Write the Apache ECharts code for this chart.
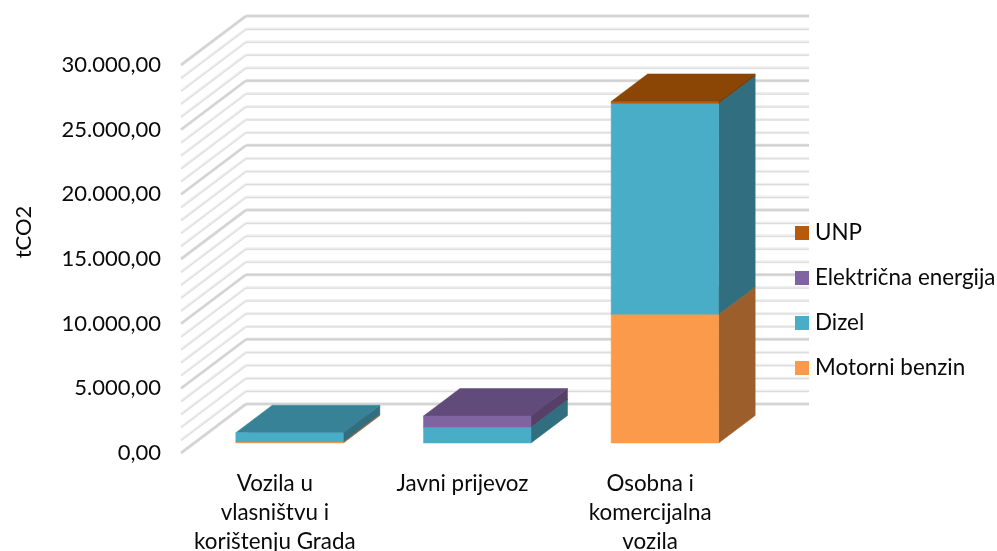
<!DOCTYPE html>
<html>
<head>
<meta charset="utf-8">
<style>html,body{margin:0;padding:0;background:#fff}#c{width:997px;height:551px}</style>
<script src="https://cdn.jsdelivr.net/npm/echarts@6/dist/echarts.min.js"></script>
</head>
<body>
<div id="c"></div>
<script>
const categories = ['Vozila u\nvlasništvu i\nkorištenju Grada', 'Javni prijevoz', 'Osobna i\nkomercijalna\nvozila'];
const motorniBenzin = [100, 0, 9960];
const dizel = [695, 1235, 16300];
const elektricnaEnergija = [0, 850, 0];
const unp = [0, 0, 150];
const yTickLabels = ['0,00', '5.000,00', '10.000,00', '15.000,00', '20.000,00', '25.000,00', '30.000,00'];
const gridValues = [0,1000,2000,3000,4000,5000,6000,7000,8000,9000,10000,11000,12000,13000,14000,15000,16000,17000,18000,19000,20000,21000,22000,23000,24000,25000,26000,27000,28000,29000,30000];

const FONT = 'Lato';
const TEXT = '#0A0A0A';
const WALL = {dx: 65, dy: -49};
const BAR_SHIFT = {dx: 14.75, dy: -10};
const BAR_DEPTH = {dx: 36.5, dy: -27.5};
const BAR_RATIO = 0.573;

const seriesDefs = [
  {name: 'Motorni benzin', values: motorniBenzin, front: '#FB9A4A', side: '#9C5E2B', top: '#B86E30'},
  {name: 'Dizel', values: dizel, front: '#49ADC8', side: '#316F80', top: '#388298'},
  {name: 'Električna energija', values: elektricnaEnergija, front: '#8064A2', side: '#564068', top: '#614B7A'},
  {name: 'UNP', values: unp, front: '#B85A0C', side: '#7A3C06', top: '#8B4505'}
];

function poly(points, color) {
  return {type: 'polygon', shape: {points}, style: {fill: color, stroke: color, lineWidth: 0.5}};
}
function barRenderer(def) {
  return function (params, api) {
    if (api.value(2) <= api.value(1)) return {type: 'group', children: []};
    const c = api.coord([api.value(0), api.value(1)]);
    const t = api.coord([api.value(0), api.value(2)]);
    const w = api.size([1, 0])[0] * BAR_RATIO;
    const x0 = c[0] - w / 2 + BAR_SHIFT.dx, x1 = x0 + w;
    const y0 = c[1] + BAR_SHIFT.dy, y1 = t[1] + BAR_SHIFT.dy;
    const dx = BAR_DEPTH.dx, dy = BAR_DEPTH.dy;
    return {type: 'group', children: [
      poly([[x1, y0], [x1 + dx, y0 + dy], [x1 + dx, y1 + dy], [x1, y1]], def.side),
      poly([[x0, y1], [x1, y1], [x1 + dx, y1 + dy], [x0 + dx, y1 + dy]], def.top),
      poly([[x0, y0], [x1, y0], [x1, y1], [x0, y1]], def.front)
    ]};
  };
}
function wallRenderer(params, api) {
  const v = api.value(0);
  const sys = params.coordSys;
  const y = api.coord([0, v])[1];
  const major = v % 5000 === 0;
  const xb = sys.x + WALL.dx, yb = y + WALL.dy;
  const stroke = (color, width, o) => [
    {type: 'line', shape: {x1: sys.x, y1: y + o, x2: xb, y2: yb + o}, style: {stroke: color, lineWidth: width, fill: null}},
    {type: 'line', shape: {x1: xb, y1: yb + o, x2: xb + sys.width, y2: yb + o}, style: {stroke: color, lineWidth: width, fill: null}}
  ];
  const children = major
    ? stroke('#DADADA', 3, 0).concat(stroke('#CFCFCF', 1, 0))
    : stroke('#F0F0F0', 3, 0).concat(stroke('#DADADA', 1, 0.5));
  return {type: 'group', children};
}
const cumulative = categories.map(() => 0);
const barSeries = seriesDefs.map(def => ({
  type: 'custom',
  name: def.name,
  coordinateSystem: 'cartesian2d',
  itemStyle: {color: def.front},
  renderItem: barRenderer(def),
  encode: {x: 0, y: [1, 2]},
  z: 5,
  clip: false,
  data: def.values.map((v, i) => {
    const start = cumulative[i];
    cumulative[i] += v;
    return [i, start, cumulative[i]];
  })
}));

const chart = echarts.init(document.getElementById('c'), null, {renderer: 'canvas'});
chart.setOption({
  animation: false,
  textStyle: {fontFamily: FONT},
  grid: {left: 181, right: 253, top: 65, bottom: 98, outerBoundsMode: 'none'},
  xAxis: {
    type: 'category',
    data: categories,
    axisLine: {show: false},
    axisTick: {show: false},
    splitLine: {show: false},
    axisLabel: {fontFamily: FONT, fontSize: 22.4, color: TEXT, lineHeight: 29, margin: 16, interval: 0}
  },
  yAxis: {
    type: 'value',
    min: 0,
    max: 30000,
    interval: 5000,
    axisLine: {show: false},
    axisTick: {show: false},
    splitLine: {show: false},
    axisLabel: {
      fontFamily: FONT, fontSize: 22, color: TEXT, margin: 20, padding: [2, 0, 0, 0],
      formatter: (v) => yTickLabels[v / 5000]
    }
  },
  legend: {
    orient: 'vertical',
    left: 795,
    top: 222,
    padding: 0,
    itemWidth: 14,
    itemHeight: 14,
    itemGap: 23,
    icon: 'rect',
    selectedMode: false,
    textStyle: {fontFamily: FONT, fontSize: 22.4, color: TEXT, padding: [0, 0, 0, 1]},
    data: ['UNP', 'Električna energija', 'Dizel', 'Motorni benzin']
  },
  graphic: [{
    type: 'text', x: 24, y: 232, rotation: Math.PI / 2,
    style: {text: 'tCO2', fontFamily: FONT, fontSize: 22, fill: TEXT, textAlign: 'center', textVerticalAlign: 'middle'}
  }],
  series: [{
    type: 'custom',
    name: 'grid',
    coordinateSystem: 'cartesian2d',
    renderItem: wallRenderer,
    encode: {y: 0},
    z: 1,
    silent: true,
    clip: false,
    data: gridValues.map(v => [v])
  }].concat(barSeries)
});
</script>
</body>
</html>
